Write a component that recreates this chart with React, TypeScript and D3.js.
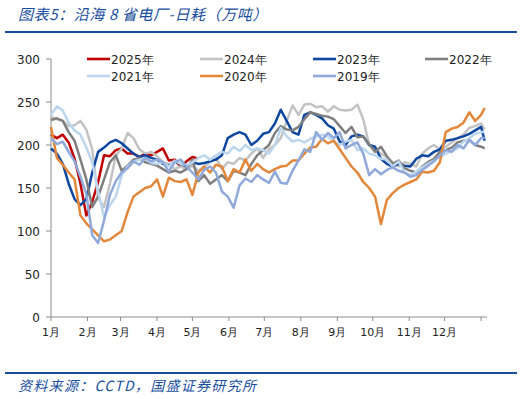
import * as d3 from "d3";

// day-of-year sample points (roughly every 5 days)
const days = [0, 5, 10, 15, 20, 25, 30, 35, 40, 45, 50, 55, 60, 65, 70, 75, 80, 85, 90, 95,
  100, 105, 110, 115, 120, 125, 130, 135, 140, 145, 150, 155, 160, 165, 170, 175, 180, 185, 190, 195,
  200, 205, 210, 215, 220, 225, 230, 235, 240, 245, 250, 255, 260, 265, 270, 275, 280, 285, 290, 295,
  300, 305, 310, 315, 320, 325, 330, 335, 340, 345, 350, 355, 360, 365, 368];

const y2025 = [212, 208, 212, 203, 184, 155, 118, 134, 157, 188, 187, 194, 196, 190, 190, 186, 190, 188, 192, 196,
  182, 183, 175, 181, 186, 184];

const y2024 = [233, 230, 228, 222, 223, 228, 218, 195, 138, 128, 155, 188, 196, 214, 208, 195, 190, 192, 187, 180,
  178, 172, 175, 172, 176, 170, 175, 180, 185, 172, 180, 178, 185, 182, 190, 196, 185, 195, 200, 208,
  228, 246, 235, 247, 248, 244, 245, 239, 245, 241, 240, 241, 247, 230, 200, 196, 190, 186, 180, 175,
  180, 178, 175, 190, 196, 200, 195, 198, 203, 208, 212, 220, 222, 225, 218];

const y2023 = [196, 190, 178, 155, 137, 130, 137, 168, 192, 197, 203, 206, 202, 196, 190, 186, 188, 185, 183, 178,
  176, 181, 178, 175, 180, 178, 179, 181, 183, 188, 208, 212, 215, 212, 200, 205, 213, 215, 225, 241,
  228, 215, 212, 235, 238, 235, 231, 223, 219, 204, 200, 210, 212, 210, 200, 198, 184, 178, 175, 178,
  176, 175, 184, 188, 187, 192, 195, 205, 206, 208, 210, 213, 217, 221, 205];

const y2022 = [229, 231, 228, 215, 205, 183, 160, 128, 140, 160, 180, 188, 170, 176, 183, 185, 180, 178, 176, 172,
  168, 170, 168, 172, 183, 158, 165, 155, 160, 165, 158, 170, 168, 165, 178, 188, 194, 200, 214, 222,
  218, 217, 221, 230, 238, 236, 234, 233, 230, 222, 214, 221, 209, 210, 201, 192, 198, 187, 178, 182,
  173, 170, 168, 175, 180, 184, 192, 194, 197, 203, 205, 206, 200, 198, 196];

const y2021 = [235, 245, 240, 226, 217, 212, 197, 180, 146, 116, 130, 140, 165, 175, 181, 183, 184, 179, 178, 180,
  175, 182, 178, 176, 180, 185, 188, 183, 188, 192, 190, 198, 193, 200, 194, 196, 194, 190, 200, 220,
  210, 204, 206, 203, 207, 210, 212, 210, 204, 200, 204, 206, 194, 196, 190, 188, 184, 183, 175, 181,
  168, 165, 169, 174, 178, 182, 186, 190, 193, 196, 204, 208, 213, 215, 215];

const y2020 = [221, 185, 177, 168, 160, 118, 109, 102, 95, 88, 90, 95, 100, 122, 140, 145, 150, 152, 160, 140,
  162, 158, 157, 160, 142, 168, 175, 168, 177, 175, 158, 172, 168, 183, 170, 178, 172, 168, 172, 175,
  176, 182, 182, 190, 197, 198, 207, 202, 205, 195, 185, 175, 168, 157, 150, 140, 108, 136, 144, 150,
  154, 157, 160, 169, 168, 170, 180, 215, 219, 221, 226, 238, 228, 235, 243];

const y2019 = [208, 201, 204, 192, 181, 163, 143, 95, 86, 112, 142, 158, 168, 173, 181, 177, 185, 181, 183, 180,
  169, 180, 183, 175, 168, 160, 171, 175, 168, 146, 140, 127, 153, 161, 157, 165, 160, 156, 169, 156,
  155, 170, 182, 195, 192, 215, 206, 214, 208, 215, 196, 200, 203, 190, 165, 172, 166, 171, 174, 170,
  168, 163, 165, 171, 176, 181, 188, 194, 192, 200, 196, 206, 200, 208, 208];

const seriesNames = ["2025年", "2024年", "2023年", "2022年", "2021年", "2020年", "2019年"];
const seriesValues = [y2025, y2024, y2023, y2022, y2021, y2020, y2019];
const seriesColors = ["#c00000", "#c3c3c3", "#0e47a1", "#7f7f7f", "#bcd6ee", "#e3873a", "#8ea9da"];

const monthLabels = ["1月", "2月", "3月", "4月", "5月", "6月", "7月", "8月", "9月", "10月", "11月", "12月"];
const monthStarts = [0, 31, 59, 90, 120, 151, 181, 212, 243, 273, 304, 334, 365];
const yTicks = [0, 50, 100, 150, 200, 250, 300];

const W = 525;
const H = 399;
const left = 51;
const right = 487;
const top = 59;
const bottom = 317;
const font = "'DejaVu Sans', Verdana, sans-serif";
const cjk = "'Noto Sans CJK SC', sans-serif";
const blue = "#1a4f9f";

export default function App() {
  const x = d3.scaleLinear().domain([0, 370]).range([left, right]);
  const y = d3.scaleLinear().domain([0, 300]).range([bottom, top]);

  const line = d3
    .line<number>()
    .x((_, i) => x(days[i]))
    .y((d) => y(d));

  return (
    <svg
      width={W}
      height={H}
      style={{ position: "absolute", left: 0, top: 0, background: "#fff" }}
    >
      {/* title */}
      <text
        x={18}
        y={20}
        fill={blue}
        fontFamily={cjk}
        fontSize={15}
        fontStyle="italic"
        letterSpacing={0.6}
      >
        图表5：沿海 8 省电厂-日耗（万吨）
      </text>
      <line x1={5} x2={517} y1={32} y2={32} stroke={blue} strokeWidth={2} />

      {/* axes */}
      <line x1={left} x2={left} y1={top} y2={bottom} stroke="#8c8c8c" />
      <line x1={left} x2={right} y1={bottom} y2={bottom} stroke="#8c8c8c" />
      {yTicks.map((t) => (
        <g key={t}>
          <line x1={left - 5} x2={left} y1={y(t)} y2={y(t)} stroke="#8c8c8c" />
          <text
            x={40}
            y={y(t) + 4.5}
            textAnchor="end"
            fontFamily={font}
            fontSize={12}
            fill="#222"
          >
            {t}
          </text>
        </g>
      ))}
      {monthStarts.map((d) => (
        <line key={d} x1={x(d)} x2={x(d)} y1={bottom} y2={bottom + 4} stroke="#8c8c8c" />
      ))}
      {monthLabels.map((m, i) => (
        <text
          key={m}
          x={x(monthStarts[i])}
          y={336}
          textAnchor="middle"
          fontFamily={font}
          fontSize={11}
          fill="#222"
        >
          {m}
        </text>
      ))}

      {/* series */}
      {seriesValues.map((vals, i) => (
        <path
          key={seriesNames[i]}
          d={line(vals) ?? ""}
          fill="none"
          stroke={seriesColors[i]}
          strokeWidth={2.5}
          strokeLinejoin="round"
        />
      ))}

      {/* legend */}
      {seriesNames.map((name, i) => {
        const lx = [87, 200, 313, 425][i % 4];
        const ly = i < 4 ? 59 : 76;
        return (
          <g key={name}>
            <line x1={lx} x2={lx + 23} y1={ly} y2={ly} stroke={seriesColors[i]} strokeWidth={2.6} />
            <text x={lx + 24} y={ly + 4.5} fontFamily={font} fontSize={12} fill="#222">
              {name}
            </text>
          </g>
        );
      })}

      {/* source */}
      <line x1={5} x2={517} y1={373} y2={373} stroke={blue} strokeWidth={2} />
      <text
        x={18}
        y={391}
        fill={blue}
        fontFamily={cjk}
        fontSize={14}
        fontStyle="italic"
        letterSpacing={1.3}
      >
        资料来源：CCTD，国盛证券研究所
      </text>
    </svg>
  );
}
